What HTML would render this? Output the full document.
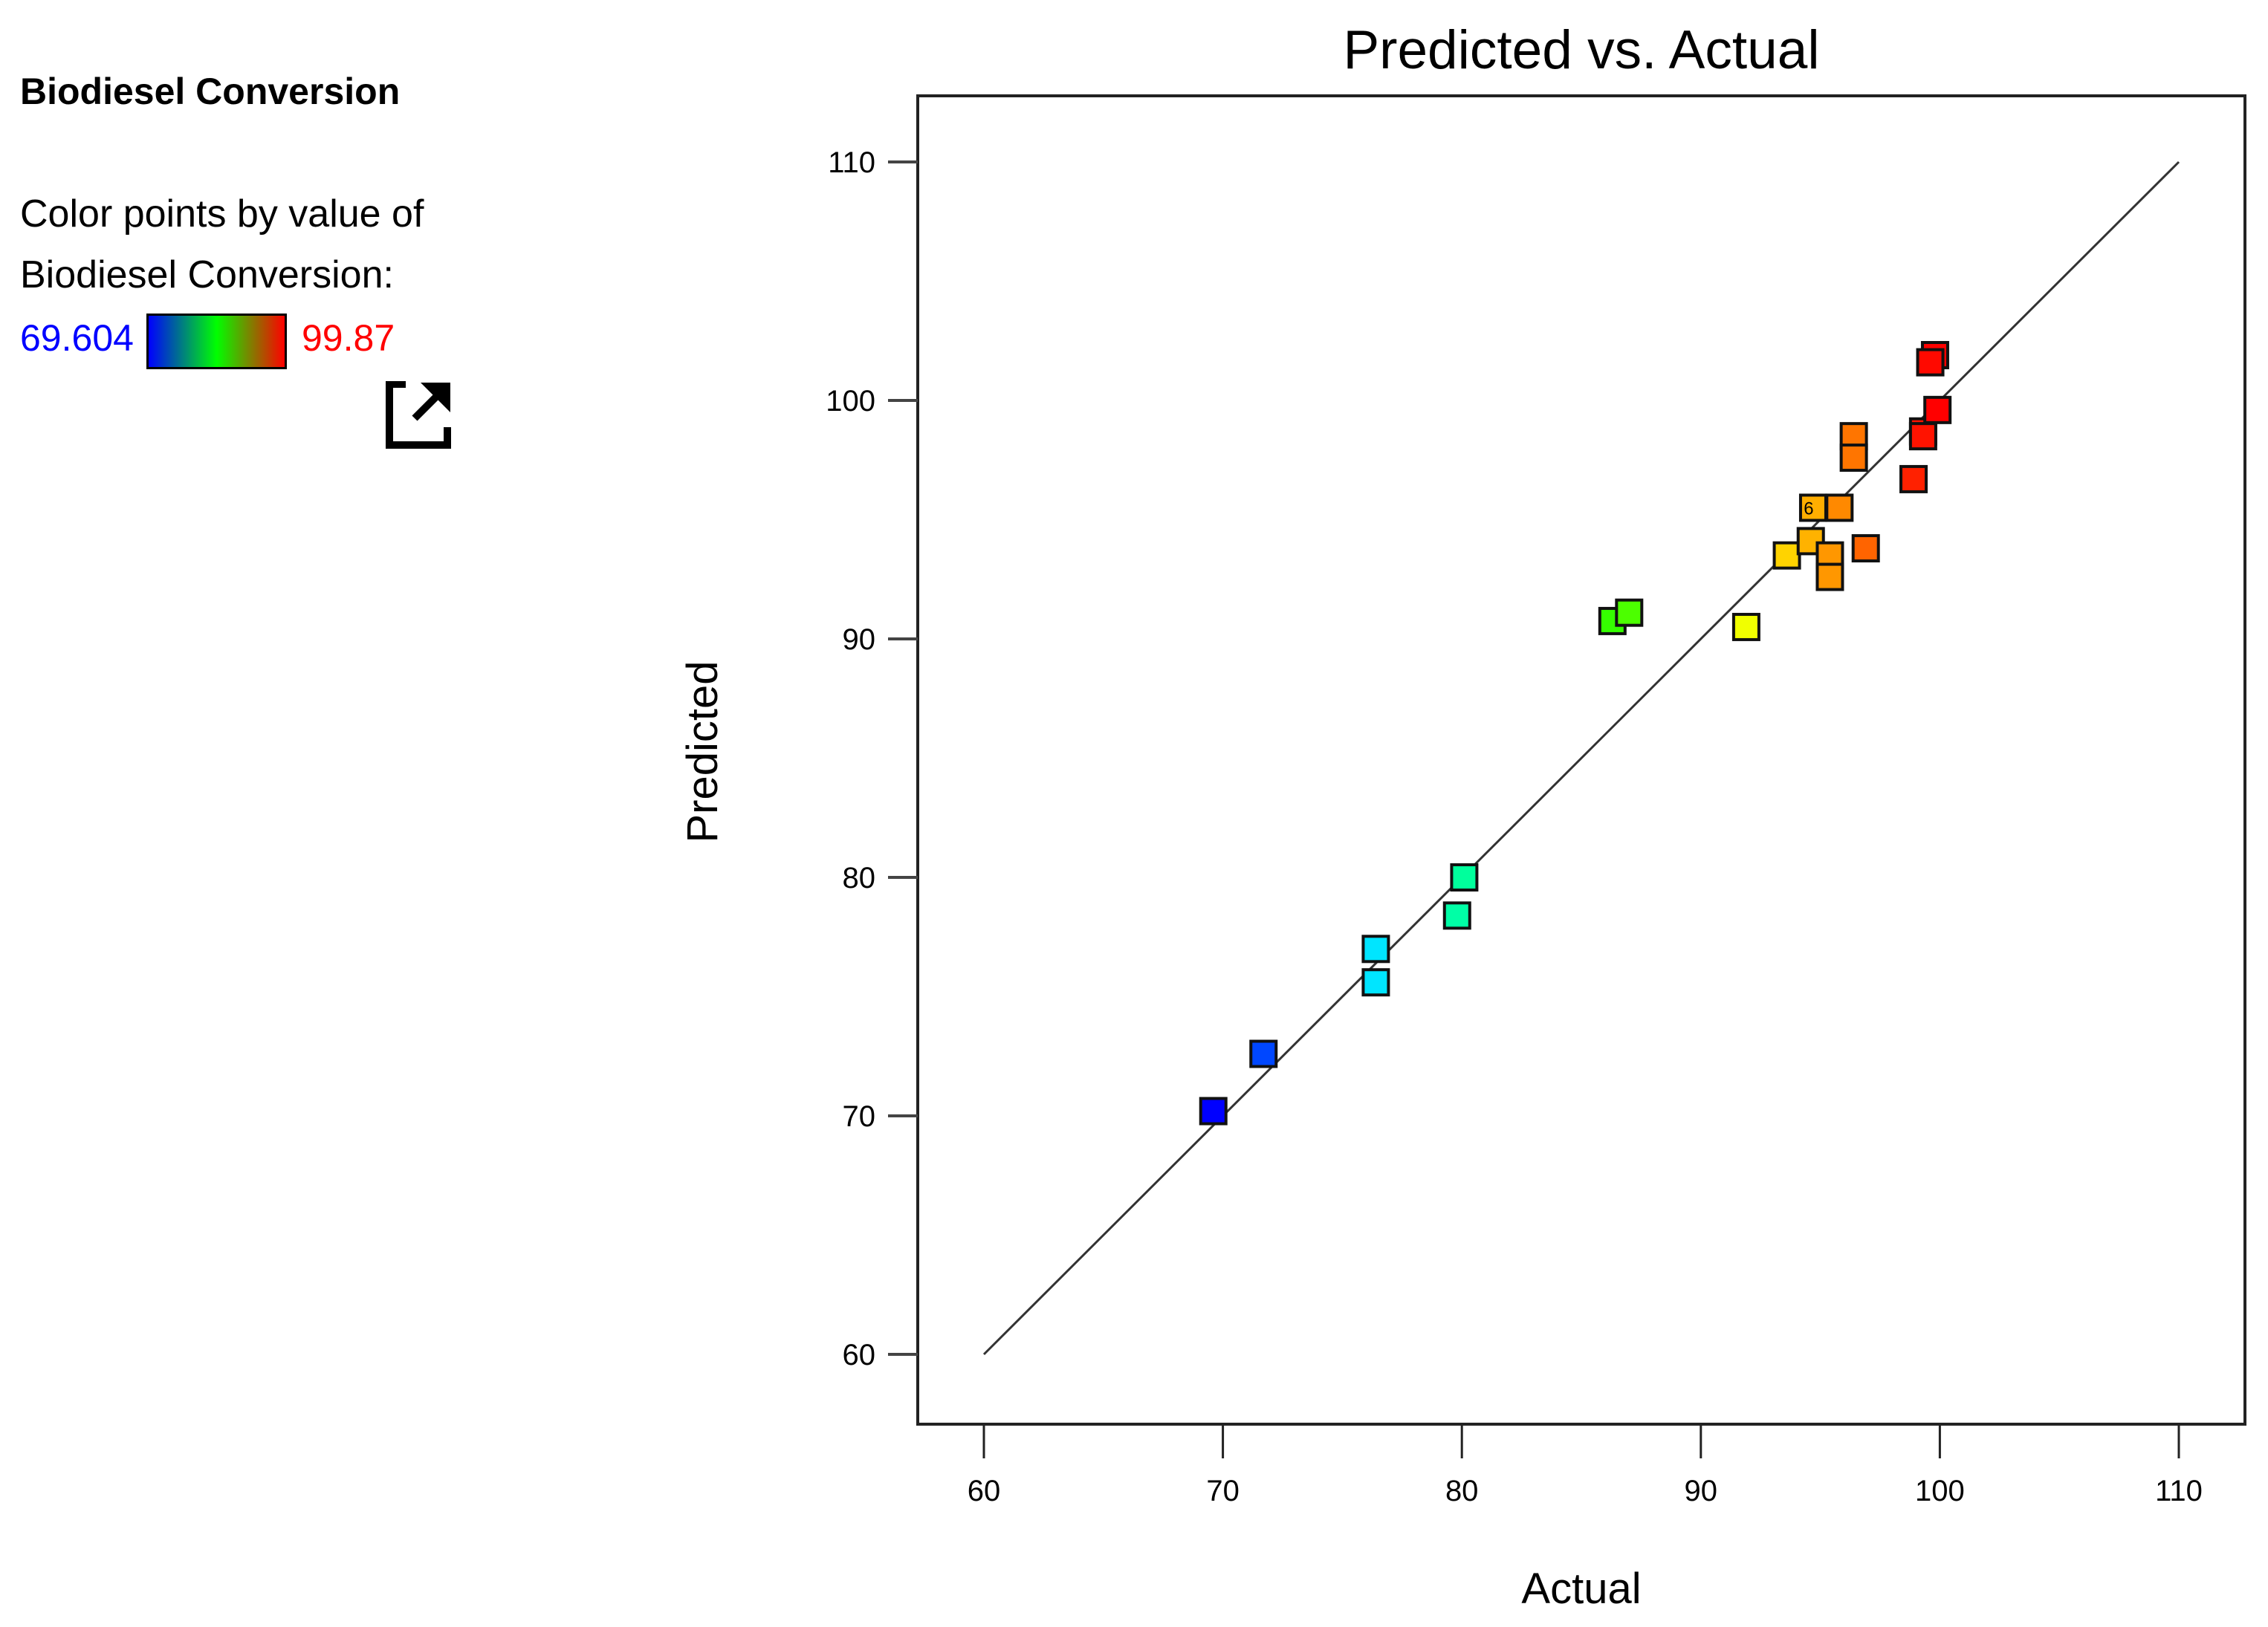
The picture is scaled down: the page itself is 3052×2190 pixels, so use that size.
<!DOCTYPE html>
<html><head><meta charset="utf-8">
<style>
html,body{margin:0;padding:0;background:#fff;}
body{width:3052px;height:2190px;overflow:hidden;font-family:"Liberation Sans",sans-serif;}
.lg{position:absolute;left:27px;font-family:"Liberation Sans",sans-serif;color:#000;white-space:nowrap;}
</style></head>
<body>
<div class="lg" style="top:94px;font-size:50px;font-weight:bold;">Biodiesel Conversion</div>
<div class="lg" style="top:258px;font-size:52px;">Color points by value of</div>
<div class="lg" style="top:340px;font-size:52px;">Biodiesel Conversion:</div>
<div class="lg" style="top:426px;font-size:50px;color:#0000ff;">69.604</div>
<div style="position:absolute;left:197px;top:422px;width:183px;height:69px;border:3px solid #000;background:linear-gradient(to right,#0000ff,#00ff00 50%,#ff0000);"></div>
<div class="lg" style="left:406px;top:426px;font-size:50px;color:#ff0000;">99.87</div>
<svg style="position:absolute;left:518px;top:513px" width="90" height="92" viewBox="0 0 90 92">
<path d="M28 4 H6 V86 H84 V62" fill="none" stroke="#000" stroke-width="10"/>
<polygon points="48,2 88,2 88,42" fill="#000"/>
<line x1="78" y1="12" x2="40" y2="50" stroke="#000" stroke-width="10"/>
</svg>
<svg id="chart" width="3052" height="2190" style="position:absolute;left:0;top:0"></svg>
<script>
const xTicks=[60,70,80,90,100,110];
const yTicks=[60,70,80,90,100,110];
const actual=[69.6,71.7,76.4,76.4,79.8,80.1,86.3,87.0,91.9,93.6,94.6,94.7,95.8,95.4,95.4,96.9,96.4,96.4,98.9,99.3,99.3,99.9,99.8,99.6];
const predicted=[70.2,72.6,77.0,75.6,78.4,80.0,90.75,91.1,90.5,93.5,94.1,95.5,95.5,93.5,92.6,93.8,98.5,97.6,96.7,98.7,98.5,99.6,101.9,101.6];
const pointLabels=["","","","","","","","","","","","6","","","","","","","","","","","",""];
const cMin=69.604,cMax=99.87;
const NS="http://www.w3.org/2000/svg";
const svg=document.getElementById('chart');
const X=v=>1324+(v-60)*(2932-1324)/50;
const Y=v=>1823-(v-60)*(1823-218)/50;
function mk(t,a){const e=document.createElementNS(NS,t);for(const k in a)e.setAttribute(k,a[k]);svg.appendChild(e);return e;}
let f=mk('rect',{x:1235,y:129,width:1786,height:1788,fill:'none',stroke:'#222','stroke-width':4});


let t=mk('text',{x:2128,y:92,'font-size':73,'text-anchor':'middle','font-family':'Liberation Sans, sans-serif'});
t.textContent='Predicted vs. Actual';


xTicks.forEach(v=>{
 const l=mk('line',{x1:X(v),x2:X(v),y1:1917,y2:1963,stroke:'#222','stroke-width':3});
 
 
 const tx=mk('text',{x:X(v),y:2020,'font-size':40,'text-anchor':'middle','font-family':'Liberation Sans, sans-serif'});
 tx.textContent=v;
 
 
});
yTicks.forEach(v=>{
 const l=mk('line',{x1:1195,x2:1235,y1:Y(v),y2:Y(v),stroke:'#444','stroke-width':4});
 
 
 const tx=mk('text',{x:1178,y:Y(v)+14,'font-size':40,'text-anchor':'end','font-family':'Liberation Sans, sans-serif'});
 tx.textContent=v;
 
 
});
let xa=mk('text',{x:2128,y:2158,'font-size':58,'text-anchor':'middle','font-family':'Liberation Sans, sans-serif'});
xa.textContent='Actual';


let ya=mk('text',{x:0,y:0,'font-size':58,'text-anchor':'middle','font-family':'Liberation Sans, sans-serif',transform:'translate(965,1012) rotate(-90)'});
ya.textContent='Predicted';


let d=mk('line',{x1:X(60),y1:Y(60),x2:X(110),y2:Y(110),stroke:'#333','stroke-width':3});


const S=34;
actual.forEach((a,i)=>{
 const tt=Math.max(0,Math.min(1,(a-cMin)/(cMax-cMin)));
 const r=mk('rect',{x:X(a)-S/2,y:Y(predicted[i])-S/2,width:S,height:S,fill:`hsl(${240*(1-tt)},100%,50%)`,stroke:'#111','stroke-width':4});
 
 
 if(pointLabels[i]){
  const lt=mk('text',{x:X(a)-6,y:Y(predicted[i])+9,'font-size':24,'text-anchor':'middle','font-family':'Liberation Sans, sans-serif'});
  lt.textContent=pointLabels[i];
  
  
 }
});
</script>
</body></html>
